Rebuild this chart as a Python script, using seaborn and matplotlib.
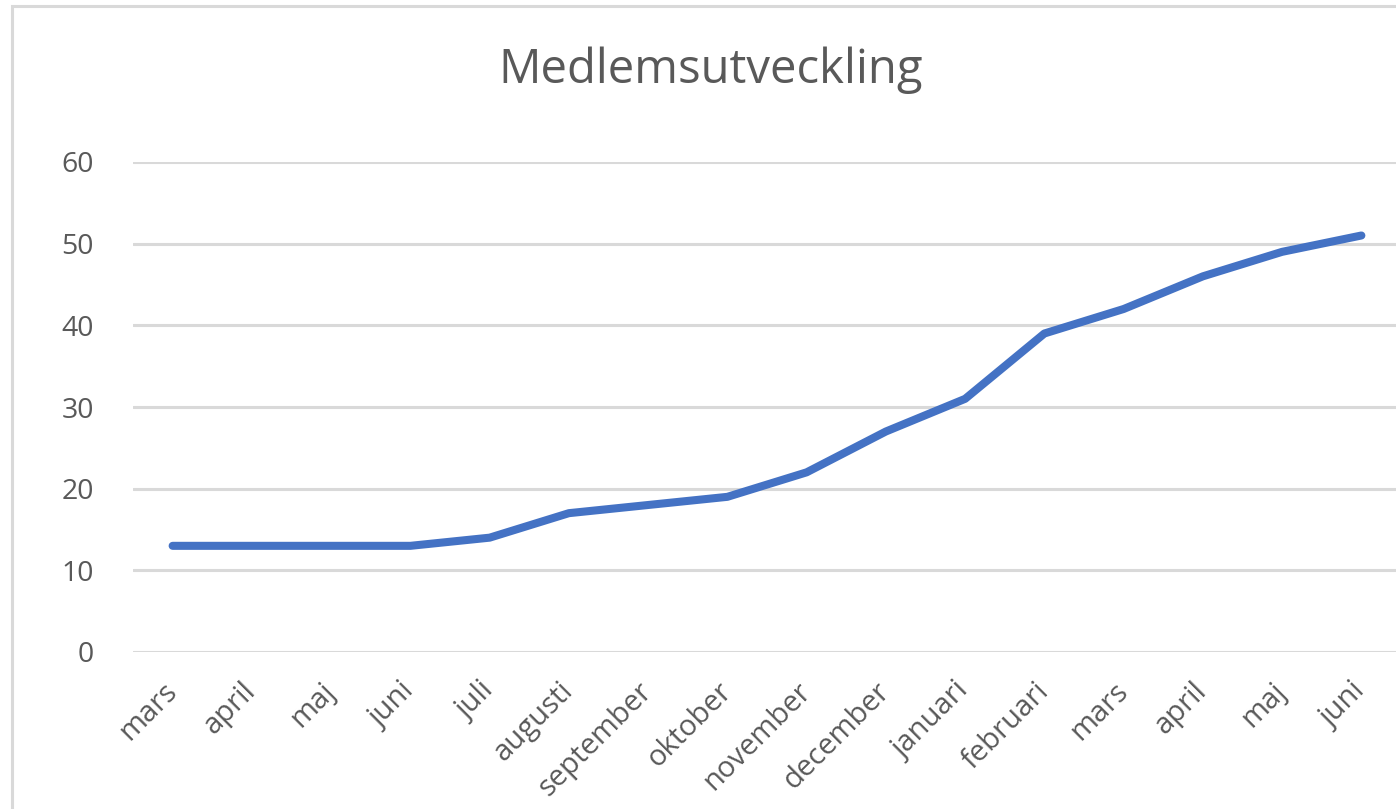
import matplotlib
matplotlib.use("Agg")
import matplotlib.pyplot as plt
import seaborn as sns
import pandas as pd
from matplotlib.patches import Rectangle

months = ["mars", "april", "maj", "juni", "juli", "augusti", "september",
          "oktober", "november", "december", "januari", "februari",
          "mars", "april", "maj", "juni"]
members = [13, 13, 13, 13, 14, 17, 18, 19, 22, 27, 31, 39, 42, 46, 49, 51]
title = "Medlemsutveckling"
yticks = [0, 10, 20, 30, 40, 50, 60]

sns.set_theme(style="white")
plt.rcParams['font.family'] = ['Open Sans', 'DejaVu Sans']

df = pd.DataFrame({"pos": range(len(months)), "members": members})

W, H = 1396, 809
fig = plt.figure(figsize=(W / 100, H / 100), dpi=100)
fig.patch.set_facecolor("white")

left, right, top, bottom = 133, 1401, 162, 652
ax = fig.add_axes([left / W, 1 - bottom / H, (right - left) / W, (bottom - top) / H])

sns.lineplot(data=df, x="pos", y="members", ax=ax, color="#4472C4",
             linewidth=5.8, solid_capstyle="round", solid_joinstyle="round")

ax.set_xlim(-0.5, len(months) - 0.5)
ax.set_ylim(0, 60)
ax.set_yticks(yticks)
ax.set_yticklabels([str(v) for v in yticks])
ax.set_xticks(range(len(months)))
ax.set_xticklabels(months, rotation=45, ha="right", va="center",
                   rotation_mode="anchor")
ax.grid(axis="y", color="#d9d9d9", linewidth=2.2)
ax.set_axisbelow(True)
for s in ax.spines.values():
    s.set_visible(False)
ax.tick_params(axis="y", length=0, pad=28, labelsize=20.5, labelcolor="#595959")
ax.tick_params(axis="x", length=0, pad=25, labelsize=21, labelcolor="#595959")
ax.set_xlabel("")
ax.set_ylabel("")

fig.text(711 / W, 1 - 70 / H, title, ha="center", va="center",
         fontsize=34, color="#595959")

fig.patches.append(Rectangle((12 / W, -0.2), 1.2, 1 - 6 / H + 0.2,
                             transform=fig.transFigure, fill=False,
                             edgecolor="#d9d9d9", linewidth=2.2, zorder=0))

fig.savefig("out.png", dpi=100)
